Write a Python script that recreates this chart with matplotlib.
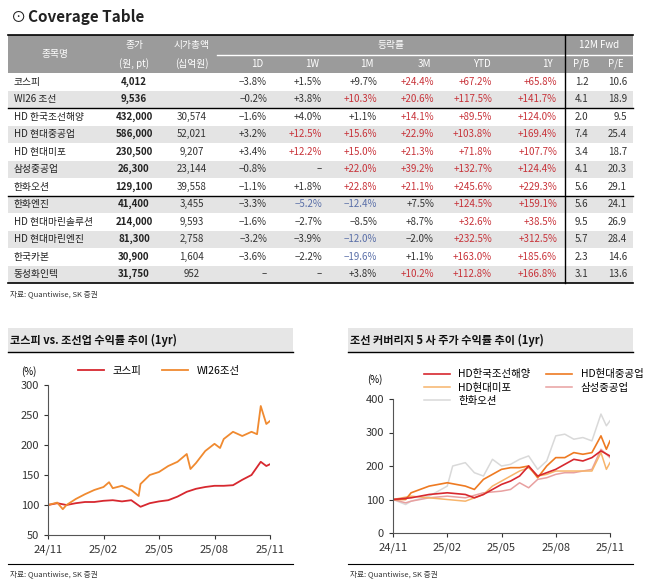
import matplotlib.pyplot as plt
from matplotlib.patches import Rectangle

plt.rcParams['font.family'] = ['Noto Sans CJK KR', 'DejaVu Sans']

W, H = 661, 587

# ---- table data ----
names = ['코스피', 'WI26 조선', 'HD 한국조선해양', 'HD 현대중공업', 'HD 현대미포', '삼성중공업', '한화오션',
         '한화엔진', 'HD 현대마린솔루션', 'HD 현대마린엔진', '한국카본', '동성화인텍']
close = ['4,012', '9,536', '432,000', '586,000', '230,500', '26,300', '129,100',
         '41,400', '214,000', '81,300', '30,900', '31,750']
mcap = ['', '', '30,574', '52,021', '9,207', '23,144', '39,558', '3,455', '9,593', '2,758', '1,604', '952']
chg_cols = ['1D', '1W', '1M', '3M', 'YTD', '1Y']
chg = [
    ['-3.8', '+1.5', '+9.7', '+24.4', '+67.2', '+65.8'],
    ['-0.2', '+3.8', '+10.3', '+20.6', '+117.5', '+141.7'],
    ['-1.6', '+4.0', '+1.1', '+14.1', '+89.5', '+124.0'],
    ['+3.2', '+12.5', '+15.6', '+22.9', '+103.8', '+169.4'],
    ['+3.4', '+12.2', '+15.0', '+21.3', '+71.8', '+107.7'],
    ['-0.8', '', '+22.0', '+39.2', '+132.7', '+124.4'],
    ['-1.1', '+1.8', '+22.8', '+21.1', '+245.6', '+229.3'],
    ['-3.3', '-5.2', '-12.4', '+7.5', '+124.5', '+159.1'],
    ['-1.6', '-2.7', '-8.5', '+8.7', '+32.6', '+38.5'],
    ['-3.2', '-3.9', '-12.0', '-2.0', '+232.5', '+312.5'],
    ['-3.6', '-2.2', '-19.6', '+1.1', '+163.0', '+185.6'],
    ['', '', '+3.8', '+10.2', '+112.8', '+166.8'],
]
# cells shown in blue in the source (row, col)
blue_cells = [(7, 1), (7, 2), (9, 2), (10, 2)]
pb = ['1.2', '4.1', '2.0', '7.4', '3.4', '4.1', '5.6', '5.6', '9.5', '5.7', '2.3', '3.1']
pe = ['10.6', '18.9', '9.5', '25.4', '18.7', '20.3', '29.1', '24.1', '26.9', '28.4', '14.6', '13.6']

# ---- chart data (months from 24/11) ----
kospi_x = [0, .5, 1, 1.5, 2, 2.5, 3, 3.5, 4, 4.5, 5, 5.5, 6, 6.5, 7, 7.5, 8, 8.5, 9, 9.5, 10, 10.5, 11, 11.5, 11.8, 12]
kospi_y = [100, 103, 100, 103, 105, 105, 107, 108, 106, 108, 97, 103, 106, 108, 114, 122, 127, 130, 132, 132, 133, 142, 150, 172, 165, 168]
wi_x = [0, .5, .8, 1, 1.5, 2, 2.5, 3, 3.3, 3.5, 4, 4.5, 4.9, 5, 5.5, 6, 6.5, 7, 7.5, 7.7, 8, 8.5, 9, 9.3, 9.5, 10, 10.5, 11, 11.3, 11.5, 11.8, 12]
wi_y = [100, 104, 93, 100, 110, 118, 125, 130, 138, 128, 132, 125, 115, 135, 150, 155, 165, 172, 185, 160, 170, 190, 202, 195, 210, 222, 215, 222, 218, 265, 235, 240]

ksoe_x = [0, 1, 2, 3, 4, 4.5, 5, 6, 6.5, 7, 7.5, 8, 8.5, 9, 9.5, 10, 10.5, 11, 11.5, 12]
ksoe_y = [100, 105, 115, 120, 115, 105, 115, 145, 155, 170, 200, 170, 180, 190, 205, 220, 215, 225, 245, 230]
hhi_x = [0, .7, 1, 2, 3, 4, 4.5, 5, 5.5, 6, 6.5, 7, 7.5, 8, 8.5, 9, 9.5, 10, 10.5, 11, 11.5, 11.8, 12]
hhi_y = [100, 100, 120, 140, 150, 140, 130, 160, 175, 190, 195, 195, 200, 165, 200, 225, 225, 240, 235, 240, 290, 250, 275]
mipo_x = [0, 1, 2, 3, 4, 5, 5.5, 6, 6.5, 7, 7.5, 8, 8.5, 9, 9.5, 10, 10.5, 11, 11.5, 11.8, 12]
mipo_y = [100, 110, 105, 100, 95, 115, 140, 155, 170, 185, 195, 170, 175, 185, 185, 185, 185, 185, 240, 190, 210]
shi_x = [0, .7, 1, 2, 3, 4, 5, 6, 6.5, 7, 7.5, 8, 8.5, 9, 9.5, 10, 10.5, 11, 11.5, 12]
shi_y = [100, 90, 95, 105, 110, 105, 120, 125, 130, 150, 135, 160, 165, 175, 180, 180, 185, 190, 250, 225]
hwo_x = [0, .7, 1, 2, 3, 3.3, 4, 4.5, 5, 5.5, 6, 6.5, 7, 7.5, 8, 8.5, 9, 9.5, 10, 10.5, 11, 11.5, 11.8, 12]
hwo_y = [100, 85, 95, 110, 140, 200, 210, 180, 170, 220, 200, 205, 220, 230, 190, 215, 290, 295, 280, 285, 275, 355, 320, 335]

tick_pos = [0, 3, 6, 9, 12]
tick_lab = ['24/11', '25/02', '25/05', '25/08', '25/11']

RED = '#d7282f'
ORANGE = '#f08a30'
GRAYH = '#9b9b9b'
ROWG = '#e4e4e4'
TRED = '#c8333a'
TBLUE = '#5a6fa8'

fig = plt.figure(figsize=(W / 100, H / 100), dpi=100)
bg = fig.add_axes([0, 0, 1, 1])
bg.set_xlim(0, W)
bg.set_ylim(H, 0)
bg.axis('off')

# title
bg.text(10, 17, '⊙', fontsize=11, va='center', color='#222')
bg.text(28, 17, 'Coverage Table', fontsize=11, fontweight='bold', va='center', color='#222')

# table geometry
xs = [8, 102, 166, 217, 275, 330, 385, 442, 500, 565, 598, 633]
y0, y1, y2 = 35, 55, 73
rh = 17.5
bg.add_patch(Rectangle((8, y0), 625, y2 - y0, color=GRAYH, lw=0))
bg.plot([8, 633], [y0, y0], color='k', lw=1.2)
bg.plot([xs[3], xs[9]], [y1, y1], color='white', lw=1)
bg.plot([xs[9], xs[11]], [y1, y1], color='white', lw=1)
hc = dict(color='white', fontsize=7, ha='center', va='center')
bg.text((xs[0] + xs[1]) / 2, (y0 + y2) / 2, '종목명', **hc)
bg.text((xs[1] + xs[2]) / 2, 45, '종가', **hc)
bg.text((xs[1] + xs[2]) / 2, 64, '(원, pt)', **hc)
bg.text((xs[2] + xs[3]) / 2, 45, '시가총액', **hc)
bg.text((xs[2] + xs[3]) / 2, 64, '(십억원)', **hc)
bg.text((xs[3] + xs[9]) / 2, 45, '등락률', **hc)
bg.text((xs[9] + xs[11]) / 2, 45, '12M Fwd', **hc)
for i, c in enumerate(chg_cols):
    bg.text(xs[4 + i] - 18, 64, c, color='white', fontsize=7, ha='center', va='center')
bg.text((xs[9] + xs[10]) / 2, 64, 'P/B', **hc)
bg.text((xs[10] + xs[11]) / 2, 64, 'P/E', **hc)

for r in range(len(names)):
    top = y2 + r * rh
    yc = top + rh / 2
    if r % 2 == 1:
        bg.add_patch(Rectangle((8, top), 625, rh, color=ROWG, lw=0))
    bg.text(xs[0] + 6, yc, names[r], fontsize=7, va='center', color='#222')
    bg.text((xs[1] + xs[2]) / 2, yc, close[r], fontsize=7, fontweight='bold', ha='center', va='center', color='#222')
    bg.text((xs[2] + xs[3]) / 2, yc, mcap[r], fontsize=7, ha='center', va='center', color='#333')
    for i, v in enumerate(chg[r]):
        if v == '':
            s, col = '–', '#333'
        else:
            s = v.replace('-', '−') + '%'
            if (r, i) in blue_cells:
                col = TBLUE
            elif float(v) >= 10:
                col = TRED
            else:
                col = '#333'
        bg.text(xs[4 + i] - 8, yc, s, fontsize=7, ha='right', va='center', color=col)
    bg.text((xs[9] + xs[10]) / 2, yc, pb[r], fontsize=7, ha='center', va='center', color='#333')
    bg.text(xs[11] - 6, yc, pe[r], fontsize=7, ha='right', va='center', color='#333')
yb = y2 + len(names) * rh
bg.plot([8, 633], [yb, yb], color='k', lw=1.2)
bg.plot([8, 633], [y2 + 2 * rh] * 2, color='k', lw=1)
bg.plot([8, 633], [y2 + 7 * rh] * 2, color='k', lw=1)
bg.plot([xs[9], xs[9]], [y0, yb], color='k', lw=1)
bg.text(10, 294, '자료: Quantiwise, SK 증권', fontsize=5.5, va='center', color='#333')

# chart title bands
for (xa, xb, t) in [(8, 293, '코스피 vs. 조선업 수익률 추이 (1yr)'), (348, 633, '조선 커버리지 5 사 주가 수익률 추이 (1yr)')]:
    bg.add_patch(Rectangle((xa, 328), xb - xa, 24, color='#e6e6e6', lw=0))
    bg.plot([xa, xb], [352, 352], color='k', lw=1)
    bg.text(xa + 2, 340, t, fontsize=8, fontweight='bold', va='center', color='#111')
    bg.plot([xa, xb], [564, 564], color='k', lw=0.8)
    bg.text(xa + 2, 574, '자료: Quantiwise, SK 증권', fontsize=5.5, va='center', color='#333')


def style(ax, ylim, yticks):
    ax.set_xlim(0, 12)
    ax.set_ylim(*ylim)
    ax.set_yticks(yticks)
    ax.set_xticks(tick_pos)
    ax.set_xticklabels(tick_lab)
    for s in ['top', 'right']:
        ax.spines[s].set_visible(False)
    ax.tick_params(labelsize=8, length=3, colors='#333')
    ax.spines['left'].set_color('#555')
    ax.spines['bottom'].set_color('#555')


def frac(x0, y_top, x1, y_bot):
    return [x0 / W, 1 - y_bot / H, (x1 - x0) / W, (y_bot - y_top) / H]


ax1 = fig.add_axes(frac(48, 385, 270, 535))
ax1.plot(kospi_x, kospi_y, color=RED, lw=1.3, label='코스피')
ax1.plot(wi_x, wi_y, color=ORANGE, lw=1.3, label='WI26조선')
style(ax1, (50, 300), [50, 100, 150, 200, 250, 300])
ax1.text(-0.05, 1.07, '(%)', transform=ax1.transAxes, fontsize=7, ha='right')
ax1.legend(loc='lower center', bbox_to_anchor=(0.5, 1.0), ncol=2, frameon=False, fontsize=7.5,
           handlelength=2.5, columnspacing=2)

ax2 = fig.add_axes(frac(393, 399, 610, 533))
ax2.plot(hwo_x, hwo_y, color='#d9d9d9', lw=1.1, label='한화오션')
ax2.plot(shi_x, shi_y, color='#e8a0a0', lw=1.1, label='삼성중공업')
ax2.plot(mipo_x, mipo_y, color='#f7b46b', lw=1.1, label='HD현대미포')
ax2.plot(hhi_x, hhi_y, color='#ee7a22', lw=1.2, label='HD현대중공업')
ax2.plot(ksoe_x, ksoe_y, color=RED, lw=1.2, label='HD한국조선해양')
style(ax2, (0, 400), [0, 100, 200, 300, 400])
ax2.text(-0.05, 1.12, '(%)', transform=ax2.transAxes, fontsize=7, ha='right')
h, l = ax2.get_legend_handles_labels()
order = [4, 2, 0, 3, 1]
ax2.legend([h[i] for i in order], [l[i] for i in order], loc='lower left', bbox_to_anchor=(0.1, 0.88),
           ncol=2, frameon=False, fontsize=7.5, handlelength=2.5, labelspacing=0.3, columnspacing=1.5)

fig.savefig('out.png', dpi=100)
